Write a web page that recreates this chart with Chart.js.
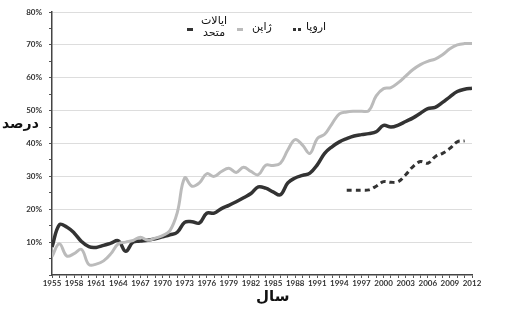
<!DOCTYPE html>
<html>
<head>
<meta charset="utf-8">
<script src="https://cdn.jsdelivr.net/npm/chart.js@4/dist/chart.umd.min.js"></script>
<style>
  html, body { margin:0; padding:0; background:#fff; }
  #wrap { position:relative; width:509px; height:324px; }
  canvas { position:absolute; left:0; top:0; }
  .t { position:absolute; font-family:'DejaVu Sans', sans-serif; color:#111; direction:rtl; white-space:nowrap; }
  .mk { position:absolute; height:3px; }
</style>
</head>
<body>
<div id="wrap">
  <canvas id="c" width="509" height="324"></canvas>
  <div class="t" style="left:2px; top:115px; font-size:14px; font-weight:bold;">درصد</div>
  <div class="t" style="left:256px; top:287px; font-size:15px; font-weight:bold;">سال</div>
  <!-- legend -->
  <div class="mk" style="left:187px; top:28px; width:6px; background:#333;"></div>
  <div class="t" style="left:201px; top:15px; font-size:11px; line-height:12px; text-align:center;">ایالات<br>متحد</div>
  <div class="mk" style="left:237px; top:28px; width:6px; background:#bbb;"></div>
  <div class="t" style="left:252px; top:20px; font-size:11px;">ژاپن</div>
  <div class="mk" style="left:293px; top:28px; width:3px; background:#333;"></div>
  <div class="mk" style="left:298px; top:28px; width:3px; background:#333;"></div>
  <div class="t" style="left:306px; top:20px; font-size:11px;">اروپا</div>
</div>
<script>
const years = [];
for (let y = 1955; y <= 2012; y++) years.push(y);

const unitedStates = [
  8.5, 15.3, 14.6, 12.8, 10.2, 8.6, 8.4, 9.0, 9.7, 10.4,
  7.2, 10.0, 10.3, 10.6, 11.0, 11.6, 12.2, 13.0, 16.0, 16.2,
  15.8, 18.8, 18.8, 20.2, 21.2, 22.3, 23.5, 24.8, 26.8, 26.4,
  25.3, 24.4, 28.0, 29.5, 30.3, 31.0, 33.5, 37.0, 39.0, 40.5,
  41.5, 42.3, 42.7, 43.0, 43.6, 45.5, 45.0, 45.6, 46.7, 47.8,
  49.2, 50.6, 51.0, 52.5, 54.2, 55.8, 56.5, 56.8
];
const japan = [
  5.6, 9.5, 5.8, 6.5, 7.8, 3.2, 3.3, 4.3, 6.5, 9.5,
  10.0, 10.5, 11.5, 10.6, 11.2, 12.0, 13.5, 19.0, 29.5, 27.0,
  28.0, 30.8, 30.0, 31.5, 32.5, 31.2, 32.8, 31.5, 30.5, 33.4,
  33.3, 34.0, 38.0, 41.2, 39.5, 37.0, 41.5, 42.8, 46.0, 49.0,
  49.6, 49.8, 49.8, 50.0, 54.5, 56.7, 57.0, 58.5, 60.5, 62.5,
  64.0, 65.0, 65.7, 67.0, 68.8, 70.0, 70.4, 70.4
];
const europe = [
  null, null, null, null, null, null, null, null, null, null,
  null, null, null, null, null, null, null, null, null, null,
  null, null, null, null, null, null, null, null, null, null,
  null, null, null, null, null, null, null, null, null, null,
  25.8, 25.8, 25.8, 25.9, 27.0, 28.4, 28.2, 28.4, 30.5, 33.0,
  34.5, 34.0, 36.0, 37.0, 38.5, 40.5, 40.8, null
];
const seriesNames = ['ایالات متحد', 'ژاپن', 'اروپا'];

const pts = arr => years.map((y, i) => ({ x: y, y: arr[i] }));

new Chart(document.getElementById('c'), {
  type: 'line',
  data: {
    datasets: [
      { label: seriesNames[1], data: pts(japan), borderColor: '#bbbbbb', borderWidth: 3, tension: 0.4, pointRadius: 0 },
      { label: seriesNames[0], data: pts(unitedStates), borderColor: '#333333', borderWidth: 3.5, tension: 0.4, pointRadius: 0 },
      { label: seriesNames[2], data: pts(europe), borderColor: '#333333', borderWidth: 3, borderDash: [5, 4], tension: 0.4, pointRadius: 0, spanGaps: false }
    ]
  },
  options: {
    responsive: false,
    animation: false,
    layout: { padding: { left: 0, right: 37, top: 12, bottom: 29 } },
    plugins: { legend: { display: false }, tooltip: { enabled: false } },
    scales: {
      x: {
        type: 'linear', min: 1955, max: 2012,
        afterFit: s => { s.height = 20; },
        afterBuildTicks: s => { s.ticks = years.map(v => ({ value: v })); },
        border: { color: '#444', width: 1.5 },
        grid: { drawOnChartArea: false, drawTicks: true, tickLength: 3, color: '#555' },
        ticks: {
          autoSkip: false, maxRotation: 0, padding: 1, color: '#333',
          font: { family: 'Lato', size: 8, weight: 'bold' },
          callback: v => ((v - 1955) % 3 === 0 ? String(v) : '')
        }
      },
      y: {
        min: 0, max: 80,
        afterFit: s => { s.width = 52; },
        afterBuildTicks: s => { const t = []; for (let v = 0; v <= 80; v += 5) t.push({ value: v }); s.ticks = t; },
        border: { color: '#444', width: 1.5 },
        grid: {
          color: c => (c.tick && c.tick.value % 10 === 0 && c.tick.value > 0 ? '#dddddd' : 'rgba(0,0,0,0)'),
          tickColor: '#555', tickLength: 3, drawTicks: true
        },
        ticks: {
          autoSkip: false, padding: 7, color: '#333',
          font: { family: 'Lato', size: 8, weight: 'bold' },
          callback: v => (v % 10 === 0 && v > 0 ? v + '%' : '')
        }
      }
    }
  }
});
</script>
</body>
</html>
